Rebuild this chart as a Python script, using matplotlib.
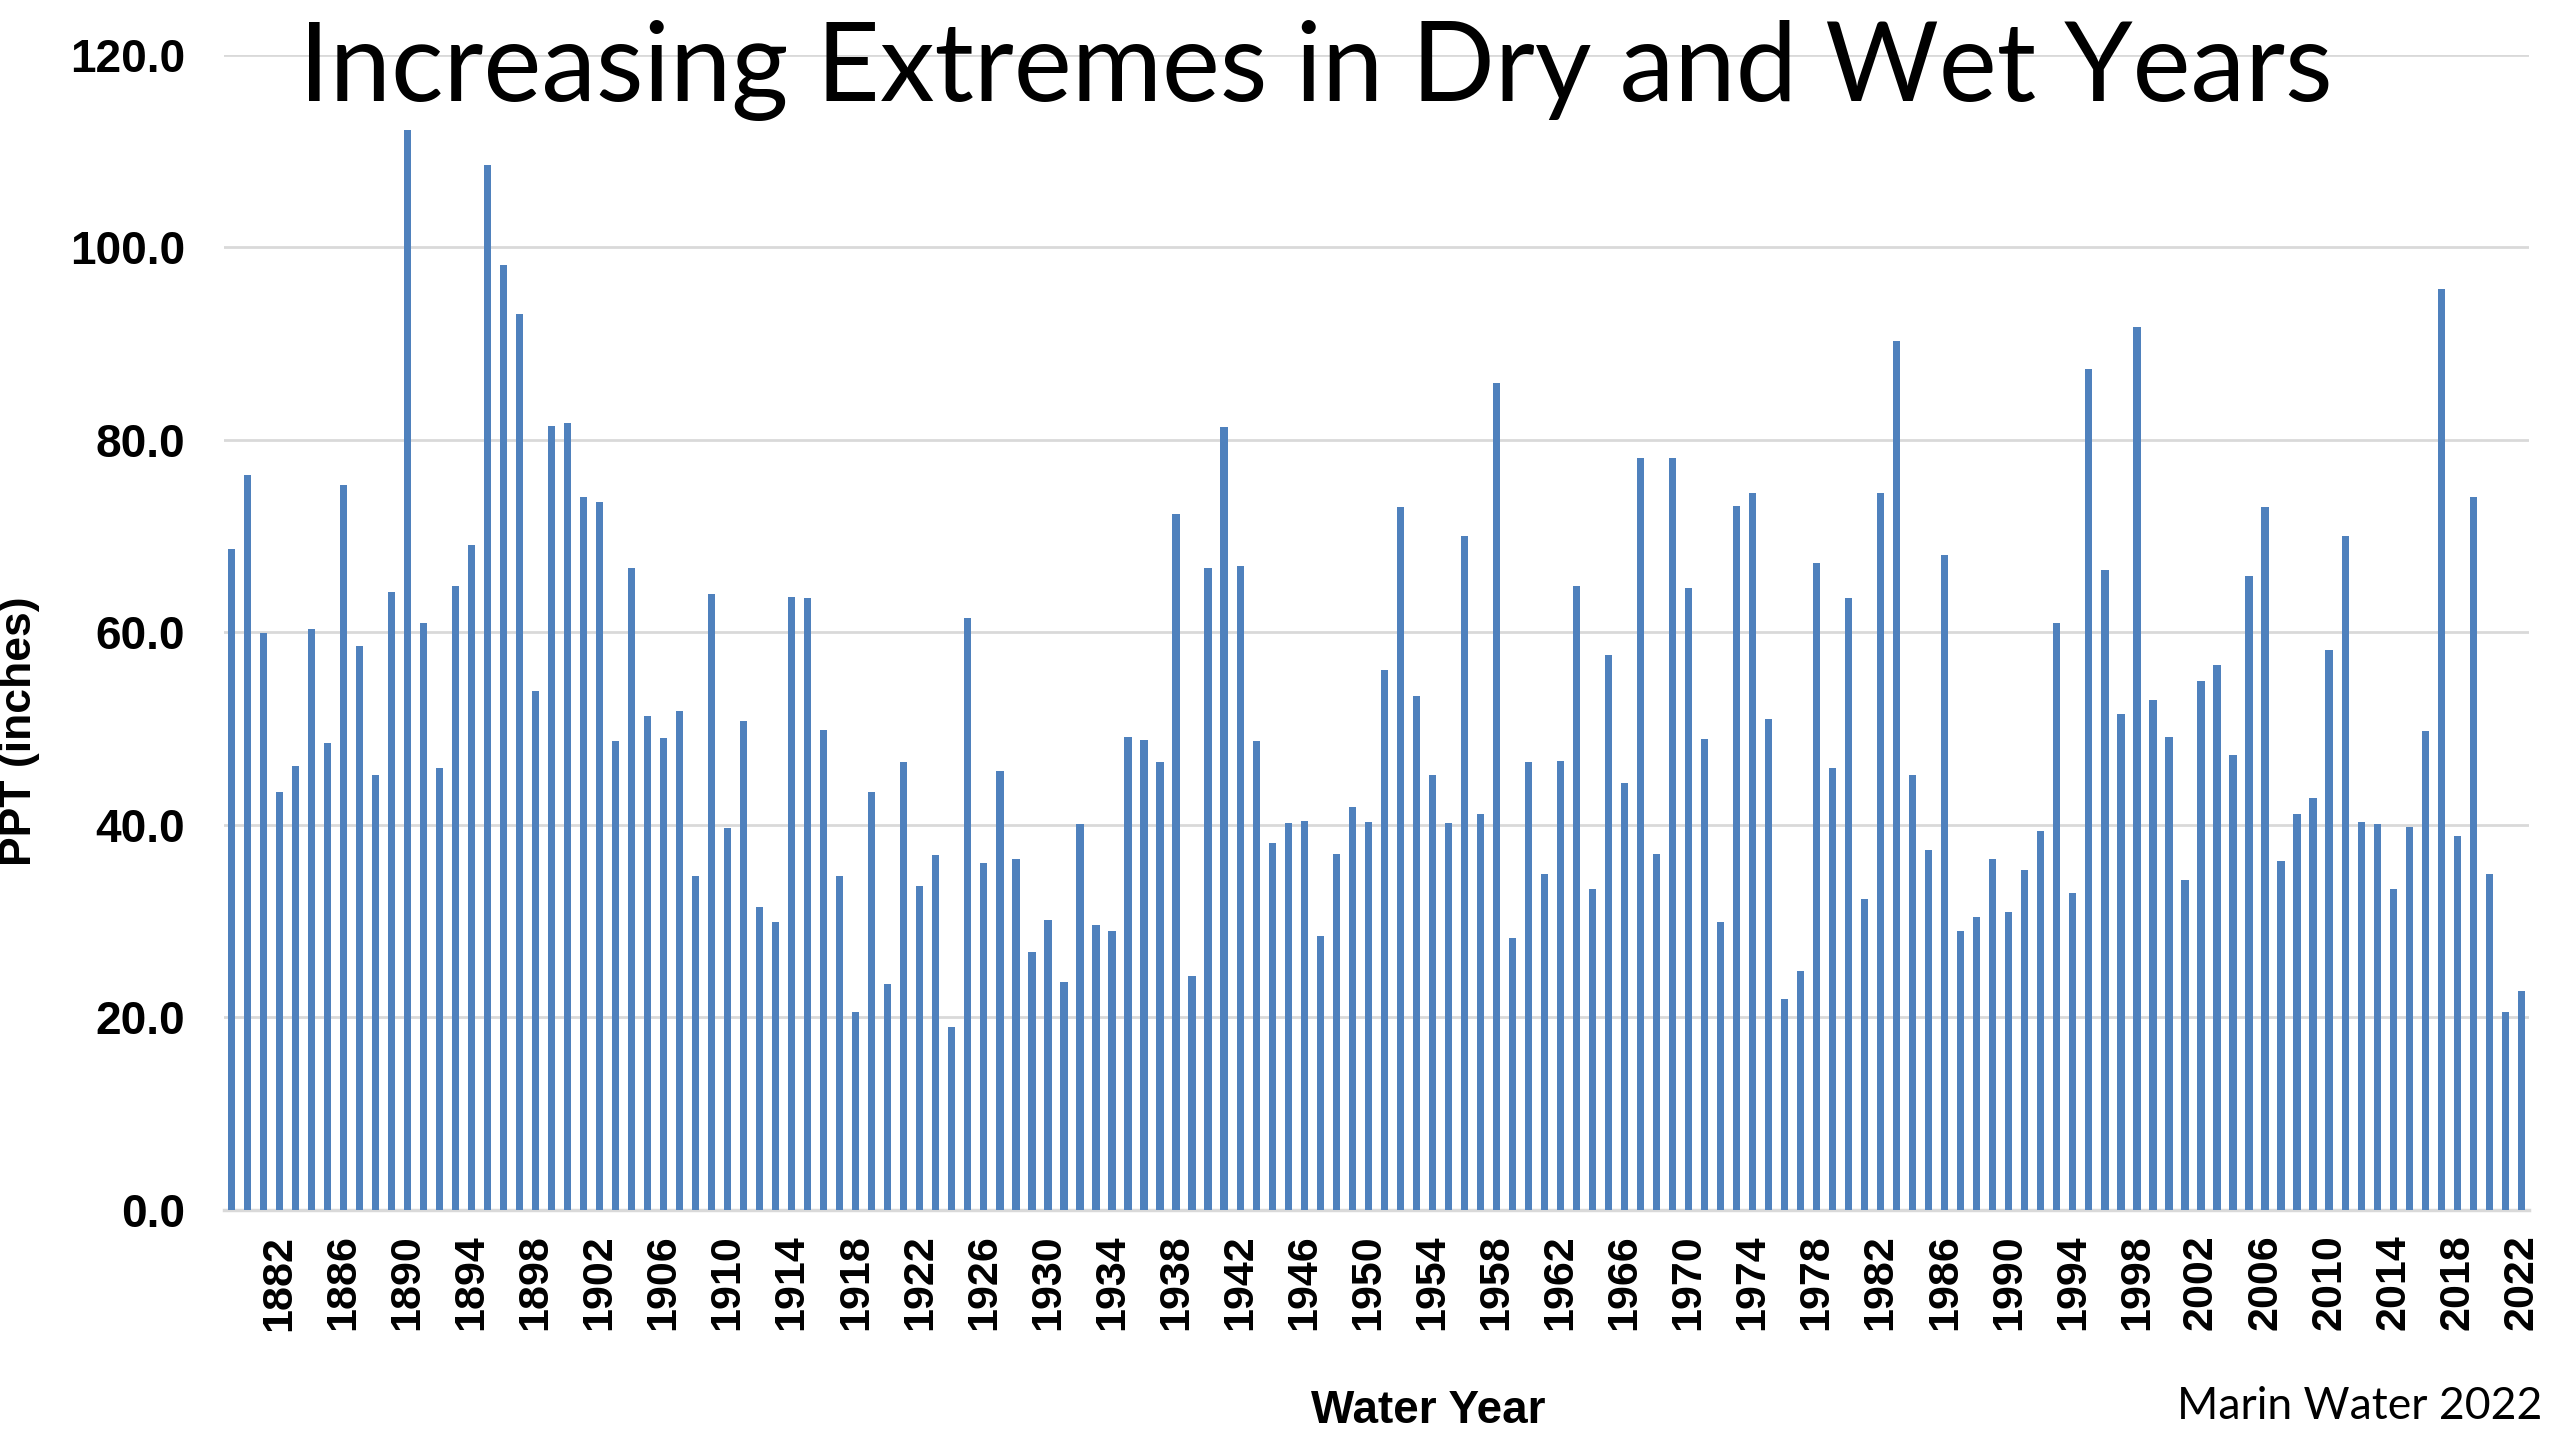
"""Marin Water annual precipitation by water year, 1879-2022."""
import numpy as np
import matplotlib
matplotlib.use("Agg")
import matplotlib.pyplot as plt

# data
years = list(range(1879, 2023))
ppt = [
    68.6, 76.3, 59.9, 43.4, 46.1, 60.3, 48.5, 75.3, 58.6, 45.2,   # 1879-1888
    64.2, 112.2, 61.0, 45.9, 64.8, 69.1, 108.5, 98.2, 93.1, 53.9,  # 1889-1898
    81.4, 81.7, 74.0, 73.5, 48.7, 66.7, 51.3, 49.0, 51.8, 34.7,   # 1899-1908
    64.0, 39.7, 50.8, 31.4, 29.9, 63.7, 63.5, 49.8, 34.7, 20.5,   # 1909-1918
    43.4, 23.4, 46.5, 33.6, 36.8, 19.0, 61.5, 36.0, 45.6, 36.4,   # 1919-1928
    26.8, 30.1, 23.6, 40.1, 29.6, 29.0, 49.1, 48.8, 46.5, 72.3,   # 1929-1938
    24.3, 66.7, 81.3, 66.9, 48.7, 38.1, 40.2, 40.4, 28.4, 37.0,   # 1939-1948
    41.8, 40.3, 56.1, 73.0, 53.4, 45.2, 40.2, 70.0, 41.1, 85.9,   # 1949-1958
    28.2, 46.5, 34.9, 46.6, 64.8, 33.3, 57.6, 44.3, 78.1, 36.9,   # 1959-1968
    78.1, 64.6, 48.9, 29.9, 73.1, 74.5, 51.0, 21.9, 24.8, 67.2,   # 1969-1978
    45.9, 63.5, 32.3, 74.5, 90.3, 45.2, 37.4, 68.0, 29.0, 30.4,   # 1979-1988
    36.4, 30.9, 35.3, 39.3, 61.0, 32.9, 87.3, 66.5, 51.5, 91.7,   # 1989-1998
    53.0, 49.1, 34.2, 54.9, 56.6, 47.2, 65.8, 73.0, 36.2, 41.1,   # 1999-2008
    42.8, 58.1, 70.0, 40.3, 40.1, 33.3, 39.8, 49.7, 95.7, 38.8,   # 2009-2018
    74.0, 34.9, 20.5, 22.7,                                       # 2019-2022
]
yticks = [0, 20, 40, 60, 80, 100, 120]

fig = plt.figure(figsize=(25.6, 14.4), dpi=100)
ax = fig.add_axes([0.0875, 0.160, 0.9005, 0.802])

x = np.arange(len(years))
ax.bar(x, ppt, width=0.45, color="#4F81BD", zorder=3)
ax.set_xlim(-0.45, len(years) - 0.5)
ax.set_ylim(0, 120)

ax.set_yticks(yticks)
ax.set_yticklabels([f"{v:.1f}" for v in yticks], fontsize=33,
                   fontweight="bold", family="Liberation Sans")
ax.set_xticks(x[3::4])
ax.set_xticklabels([str(y) for y in years[3::4]], rotation=90, fontsize=31,
                   fontweight="bold", family="Liberation Sans")
ax.tick_params(axis="both", length=0)
ax.tick_params(axis="y", pad=28)
ax.tick_params(axis="x", pad=18)

ax.grid(axis="y", color="#D9D9D9", lw=2, zorder=0)
for s in ["left", "right", "top"]:
    ax.spines[s].set_visible(False)
ax.spines["bottom"].set_color("#D9D9D9")
ax.spines["bottom"].set_linewidth(2.5)

fig.text(0.0078, 0.492, "PPT (inches)", rotation=90,
         ha="center", va="center", fontsize=32, fontweight="bold",
         family="Liberation Sans")
fig.text(0.558, 0.020, "Water Year", ha="center", va="center", fontsize=33,
         fontweight="bold", family="Liberation Sans")
fig.text(0.993, 0.023, "Marin Water 2022", ha="right", va="center",
         fontsize=32, family="Lato")
fig.text(0.514, 0.930, "Increasing Extremes in Dry and Wet Years",
         ha="center", va="baseline", fontsize=79, family="Lato")

fig.savefig("out.png", dpi=100)
print("wrote out.png")
